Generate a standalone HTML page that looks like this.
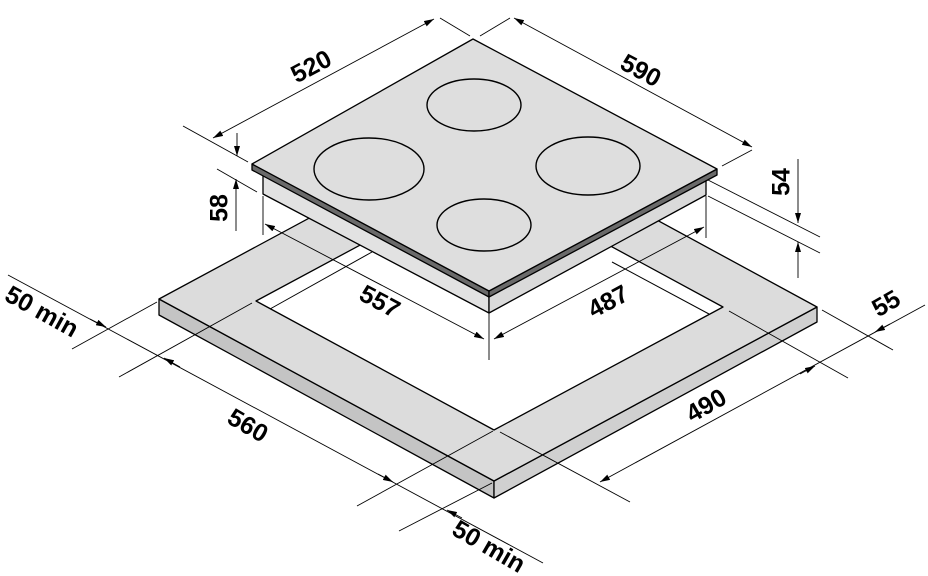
<!DOCTYPE html>
<html><head><meta charset="utf-8"><style>
html,body{margin:0;padding:0;background:#fff}
svg{display:block}
text{font-family:"Liberation Sans",sans-serif;font-weight:bold;font-size:25px;fill:#000}
</style></head><body>
<svg width="928" height="576" viewBox="0 0 928 576" xmlns="http://www.w3.org/2000/svg">
<defs>
<marker id="a" viewBox="0 0 10 6" refX="10" refY="3" markerWidth="10" markerHeight="6" orient="auto" markerUnits="userSpaceOnUse"><path d="M0,0L10,3L0,6z" fill="#000"/></marker>
<marker id="b" viewBox="0 0 10 6" refX="0" refY="3" markerWidth="10" markerHeight="6" orient="auto" markerUnits="userSpaceOnUse"><path d="M10,0L0,3L10,6z" fill="#000"/></marker>
</defs>
<g stroke="#000" stroke-width="1.3" stroke-linejoin="round">
<polygon points="159,299 494,481 494,498 159,315" fill="#c4c4c4"/>
<polygon points="494,481 817,307 817,322 494,498" fill="#d0d0d0"/>
<path fill-rule="evenodd" fill="#dcdcdc" d="M159,299 L482,125 L817,307 L494,481 Z M256,301 L494,430 L723,307 L485,178 Z"/>
<polyline points="270,309 372,252" fill="none" stroke-width="1"/>
<polyline points="709,314 612,262" fill="none" stroke-width="1"/>
</g>
<g stroke="#000" stroke-width="1.3" stroke-linejoin="round">
<polygon points="263,172 489,296 489,313 263,194" fill="#e2e2e2"/>
<polygon points="489,296 706,176 706,195 489,313" fill="#dadada"/>
<polygon points="252,164 489,291 489,297 252,170" fill="#6a6a6a"/>
<polygon points="489,291 717,169 717,175 489,297" fill="#6a6a6a"/>
<polygon points="473,39 717,169 489,291 252,164" fill="#dedede"/>
</g>
<g fill="none" stroke="#000" stroke-width="1.4">
<ellipse cx="474" cy="105" rx="47" ry="26"/>
<ellipse cx="369" cy="169" rx="55" ry="31"/>
<ellipse cx="588" cy="166" rx="52" ry="29"/>
<ellipse cx="484" cy="225" rx="47" ry="26"/>
</g>
<g stroke="#000" stroke-width="0.9" fill="none">
<line x1="183" y1="126" x2="248" y2="162"/>
<line x1="440" y1="18" x2="470" y2="36"/>
<line x1="213" y1="138" x2="434" y2="19" marker-start="url(#b)" marker-end="url(#a)"/>
<line x1="237" y1="133" x2="237" y2="156" marker-end="url(#a)"/>
<line x1="480" y1="36" x2="510" y2="18"/>
<line x1="722" y1="166" x2="752" y2="150"/>
<line x1="514" y1="18" x2="752" y2="147" marker-start="url(#b)" marker-end="url(#a)"/>
<line x1="217" y1="169" x2="257" y2="192"/>
<line x1="236" y1="231" x2="236" y2="179" marker-end="url(#a)"/>
<line x1="708" y1="180" x2="820" y2="237"/>
<line x1="708" y1="196" x2="820" y2="253"/>
<line x1="798" y1="159" x2="798" y2="223" marker-end="url(#a)"/>
<line x1="798" y1="278" x2="798" y2="242" marker-end="url(#a)"/>
<line x1="263" y1="196" x2="263" y2="235"/>
<line x1="489" y1="313" x2="489" y2="360"/>
<line x1="706" y1="196" x2="706" y2="238"/>
<line x1="265" y1="224" x2="484" y2="339" marker-start="url(#b)" marker-end="url(#a)"/>
<line x1="494" y1="339" x2="704" y2="227" marker-start="url(#b)" marker-end="url(#a)"/>
<line x1="8" y1="275" x2="543" y2="563"/>
<line x1="90" y1="319" x2="106" y2="327" marker-end="url(#a)"/>
<line x1="180" y1="367" x2="164" y2="358" marker-end="url(#a)"/>
<line x1="378" y1="474" x2="393" y2="482" marker-end="url(#a)"/>
<line x1="462" y1="518" x2="447" y2="510" marker-end="url(#a)"/>
<line x1="72" y1="349" x2="157" y2="302"/>
<line x1="119" y1="377" x2="252" y2="303"/>
<line x1="357" y1="506" x2="493" y2="431"/>
<line x1="399" y1="531" x2="492" y2="483"/>
<line x1="500" y1="432" x2="630" y2="502"/>
<line x1="729" y1="311" x2="848" y2="378"/>
<line x1="822" y1="310" x2="893" y2="350"/>
<line x1="600" y1="482" x2="925" y2="305" marker-start="url(#b)"/>
<line x1="800" y1="374" x2="815" y2="366" marker-end="url(#a)"/>
<line x1="890" y1="324" x2="875" y2="332" marker-end="url(#a)"/>
</g>
<text transform="translate(312,68) rotate(-28)" text-anchor="middle" dominant-baseline="middle">520</text>
<text transform="translate(640,72) rotate(28)" text-anchor="middle" dominant-baseline="middle">590</text>
<text transform="translate(783,182) rotate(-90)" text-anchor="middle" dominant-baseline="middle">54</text>
<text transform="translate(221,208) rotate(-90)" text-anchor="middle" dominant-baseline="middle">58</text>
<text transform="translate(379,303) rotate(28)" text-anchor="middle" dominant-baseline="middle">557</text>
<text transform="translate(609,303) rotate(-28)" text-anchor="middle" dominant-baseline="middle">487</text>
<text transform="translate(41,313) rotate(29)" text-anchor="middle" dominant-baseline="middle">50 min</text>
<text transform="translate(247,427) rotate(30)" text-anchor="middle" dominant-baseline="middle">560</text>
<text transform="translate(707,407) rotate(-30)" text-anchor="middle" dominant-baseline="middle">490</text>
<text transform="translate(887,305) rotate(-30)" text-anchor="middle" dominant-baseline="middle">55</text>
<text transform="translate(488,548) rotate(30)" text-anchor="middle" dominant-baseline="middle">50 min</text>
</svg>
</body></html>
